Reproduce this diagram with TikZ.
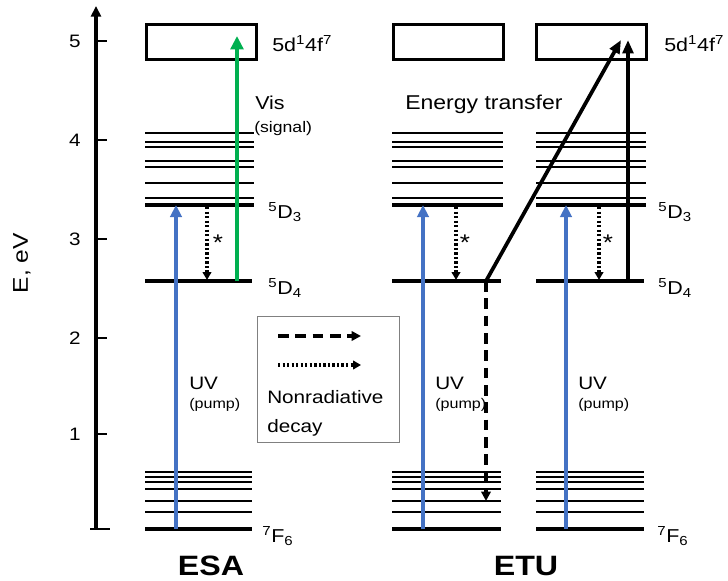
\documentclass[tikz,border=0pt]{standalone}
\usepackage{fontspec}
\setmainfont[FakeStretch=1.15]{Liberation Sans}
\usetikzlibrary{arrows.meta}
\definecolor{uvblue}{RGB}{68,114,196}
\definecolor{visgreen}{RGB}{0,176,80}
\begin{document}
\begin{tikzpicture}[x=0.75pt,y=-0.75pt,
  lvl/.style={line width=1.6pt},
  thicklvl/.style={line width=3pt},
  statebox/.style={draw,line width=2.4pt,minimum width=82pt,minimum height=26pt,inner sep=0pt},
  uvarrow/.style={draw=uvblue,line width=3pt,-{Triangle[width=8.5pt,length=9pt]}},
  visarrow/.style={draw=visgreen,line width=3pt,-{Triangle[width=9.5pt,length=10pt]}},
  blkarrow/.style={draw=black,line width=2.8pt,-{Triangle[width=8pt,length=10pt]}},
  dotarrow/.style={draw=black,line width=2.4pt,dash pattern=on 1.7pt off 1.7pt,-{Triangle[width=6.5pt,length=6pt]}},
  dasharrow/.style={draw=black,line width=2.4pt,dash pattern=on 8pt off 5pt,-{Triangle[width=7pt,length=7pt]}},
  lbl/.style={inner sep=0pt,anchor=west,font=\fontsize{14}{16}\selectfont},
  small/.style={inner sep=0pt,anchor=west,font=\fontsize{10.5}{12}\selectfont},
  axnum/.style={inner sep=0pt,font=\fontsize{13.5}{15}\selectfont},
  star/.style={inner sep=0pt,font=\fontsize{17}{18}\selectfont},
  title/.style={inner sep=0pt,font=\fontsize{21}{24}\selectfont\bfseries}]
\useasboundingbox (0,0) rectangle (728,581);

% energy axis
\coordinate (axbot) at (96,529);
\coordinate (axtop) at (96,6);
\draw[line width=2.6pt,-{Triangle[width=7.5pt,length=8pt]}] (axbot) -- (axtop);
\draw[line width=1.2pt] (90,529) -- (110,529);
\foreach \v/\y in {1/434,2/338,3/239,4/140,5/41}{
  \draw[line width=1.2pt] (96,\y) -- (107,\y);
  \node[axnum] (ax\v) at (75,\y) {\v};
}
\node[axnum,rotate=90,font=\fontsize{16}{18}\selectfont] (elabel) at (22,263) {E, eV};

% level groups
\foreach \xa/\xb in {145/254,392/503,536/646}{
  \foreach \y in {133,142,147,161,167,183,198}{
    \draw[lvl] (\xa,\y) -- (\xb,\y);
  }
  \draw[thicklvl,line width=2.6pt] (\xa,205) -- (\xb,205);
  \draw[thicklvl,line width=3.2pt] (\xa,281) -- (\xb-2,281);
  \foreach \y in {472,477,482,489,501,512}{
    \draw[lvl] (\xa,\y) -- (\xb-2,\y);
  }
  \draw[thicklvl,line width=2.8pt] (\xa,529) -- (\xb-2,529);
}

% boxes
\node[statebox] (boxA) at (201.5,42) {};
\node[statebox] (boxB) at (448.5,42) {};
\node[statebox] (boxC) at (591.5,42) {};

% coordinates
\coordinate (aF) at (176,529);  \coordinate (aD3) at (176,205);
\coordinate (bF) at (423,529);  \coordinate (bD3) at (423,205);
\coordinate (cF) at (566,529);  \coordinate (cD3) at (566,205);
\coordinate (aDs) at (207,207); \coordinate (aDe) at (207,280);
\coordinate (bDs) at (456,207); \coordinate (bDe) at (456,280);
\coordinate (cDs) at (599,207); \coordinate (cDe) at (599,280);
\coordinate (gS) at (237,281);  \coordinate (gE) at (237,36);
\coordinate (etS) at (486,281); \coordinate (etE) at (621,40);
\coordinate (vS) at (628,281);  \coordinate (vE) at (628,40);
\coordinate (dS) at (486,281);  \coordinate (dE) at (486,501);

% arrows
\draw[uvarrow] (aF) -- (aD3);
\draw[uvarrow] (bF) -- (bD3);
\draw[uvarrow] (cF) -- (cD3);
\draw[visarrow] (gS) -- (gE);
\draw[dotarrow] (aDs) -- (aDe);
\draw[dotarrow] (bDs) -- (bDe);
\draw[dotarrow] (cDs) -- (cDe);
\draw[blkarrow] (etS) -- (etE);
\draw[blkarrow] (vS) -- (vE);
\draw[dasharrow] (dS) -- (dE);

% asterisks
\node[star] (sA) at (218,243) {*};
\node[star] (sB) at (465,243) {*};
\node[star] (sC) at (608,243) {*};

% labels
\node[lbl] (tA) at (272,44) {5d\textsuperscript{1}4f\textsuperscript{7}};
\node[lbl] (tC) at (664,44) {5d\textsuperscript{1}4f\textsuperscript{7}};
\node[lbl] (vis) at (255,103) {Vis};
\node[small,font=\fontsize{11.5}{13}\selectfont] (sig) at (254,129) {(signal)};
\node[lbl] (d3A) at (268,212) {\textsuperscript{5}D\textsubscript{3}};
\node[lbl] (d4A) at (268,288) {\textsuperscript{5}D\textsubscript{4}};
\node[lbl] (f6A) at (262,536) {\textsuperscript{7}F\textsubscript{6}};
\node[lbl] (d3C) at (658,212) {\textsuperscript{5}D\textsubscript{3}};
\node[lbl] (d4C) at (658,288) {\textsuperscript{5}D\textsubscript{4}};
\node[lbl] (f6C) at (657,536) {\textsuperscript{7}F\textsubscript{6}};
\node[lbl,font=\fontsize{15}{17}\selectfont] (et) at (405,104) {Energy transfer};

\node[lbl,font=\fontsize{13.5}{15}\selectfont] (uvA) at (189,383) {UV};
\node[small] (puA) at (189,405) {(pump)};
\node[lbl,font=\fontsize{13.5}{15}\selectfont] (uvB) at (435,383) {UV};
\node[small] (puB) at (435,405) {(pump)};
\node[lbl,font=\fontsize{13.5}{15}\selectfont] (uvC) at (578,383) {UV};
\node[small] (puC) at (578,405) {(pump)};

% legend
\node[draw=gray,line width=0.8pt,minimum width=107pt,minimum height=95pt,inner sep=0pt] (legend) at (328.5,379.5) {};
\coordinate (l1s) at (278,336); \coordinate (l1e) at (361,336);
\coordinate (l2s) at (278,365); \coordinate (l2e) at (361,365);
\draw[dasharrow] (l1s) -- (l1e);
\draw[dotarrow] (l2s) -- (l2e);
\node[lbl,font=\fontsize{13.5}{15}\selectfont] (nr1) at (267,397) {Nonradiative};
\node[lbl,font=\fontsize{13.5}{15}\selectfont] (nr2) at (267,428) {decay};

% titles
\node[title] (esa) at (211,566) {ESA};
\node[title] (etu) at (526,566) {ETU};
\end{tikzpicture}
\end{document}
